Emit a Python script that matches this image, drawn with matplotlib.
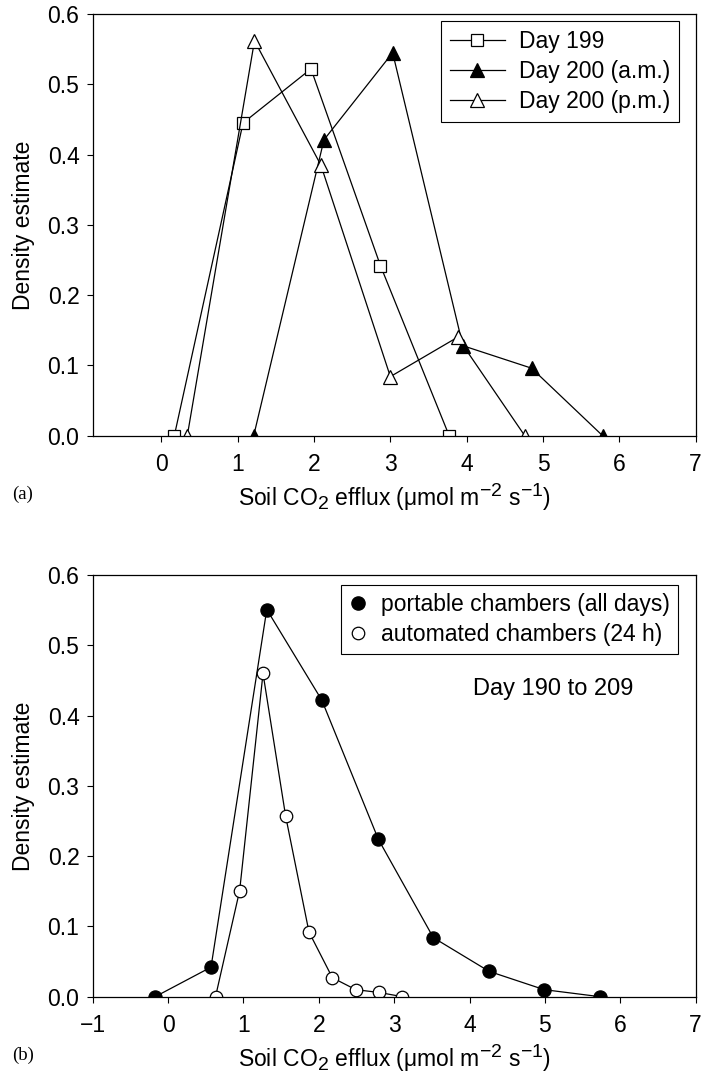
import matplotlib
matplotlib.use('Agg')
import matplotlib.pyplot as plt
import matplotlib._mathtext as mt
from matplotlib.lines import Line2D

plt.rcParams['font.family'] = ['Liberation Sans', 'DejaVu Sans']
plt.rcParams['mathtext.default'] = 'regular'
mt.SHRINK_FACTOR = 0.85  # bigger sub/superscripts, like the original

# panel (a)
day199_x = [0.17, 1.07, 1.96, 2.87, 3.77]
day199_y = [0.0, 0.445, 0.522, 0.242, 0.0]
am_x = [1.21, 2.13, 3.03, 3.95, 4.85, 5.78]
am_y = [0.0, 0.421, 0.545, 0.128, 0.096, 0.0]
pm_x = [0.34, 1.22, 2.09, 3.0, 3.88, 4.76]
pm_y = [0.0, 0.562, 0.385, 0.084, 0.14, 0.0]

# panel (b)
port_x = [-0.17, 0.57, 1.31, 2.04, 2.79, 3.52, 4.26, 4.99, 5.73]
port_y = [0.0, 0.042, 0.551, 0.422, 0.224, 0.084, 0.036, 0.010, 0.0]
auto_x = [0.63, 0.95, 1.26, 1.56, 1.87, 2.18, 2.49, 2.80, 3.11]
auto_y = [0.0, 0.151, 0.460, 0.257, 0.092, 0.027, 0.010, 0.006, 0.0]

yticks = [0.0, 0.1, 0.2, 0.3, 0.4, 0.5, 0.6]
xlab = 'Soil CO$_2$ efflux (\u03bcmol m$^{-2}$ s$^{-1}$)'

fig = plt.figure(figsize=(7.02, 10.81), dpi=100)
ax1 = fig.add_axes([0.132, 0.597, 0.859, 0.390])
ax2 = fig.add_axes([0.132, 0.078, 0.859, 0.390])

lw = 0.9
fs = 16.5
ax1.plot(day199_x, day199_y, color='black', lw=lw, marker='s', ms=9,
         mfc='white', mec='black', mew=0.9, label='Day 199')
ax1.plot(am_x, am_y, color='black', lw=lw, marker='^', ms=9.5,
         mfc='black', mec='black', mew=0.9, label='Day 200 (a.m.)')
ax1.plot(pm_x, pm_y, color='black', lw=lw, marker='^', ms=9.5,
         mfc='white', mec='black', mew=0.9, label='Day 200 (p.m.)')
ax1.set_xlim(-0.9, 7)
ax1.set_xticks(range(0, 8))
leg = ax1.legend(loc='upper right', bbox_to_anchor=(0.9723, 0.9834), borderaxespad=0,
                 fontsize=16.5, handlelength=2.4, handletextpad=0.6, fancybox=False,
                 edgecolor='black', framealpha=1, labelspacing=0.3, borderpad=0.4)
leg.get_frame().set_linewidth(0.8)

ax2.plot(port_x, port_y, color='black', lw=lw, marker='o', ms=9.5,
         mfc='black', mec='black', mew=0.9)
ax2.plot(auto_x, auto_y, color='black', lw=lw, marker='o', ms=9,
         mfc='white', mec='black', mew=0.9)
ax2.set_xlim(-1, 7)
ax2.set_xticks(range(-1, 8))
h = [Line2D([], [], ls='none', marker='o', ms=9.5, mfc='black', mec='black'),
     Line2D([], [], ls='none', marker='o', ms=9, mfc='white', mec='black', mew=0.9)]
leg2 = ax2.legend(h, ['portable chambers (all days)', 'automated chambers (24 h)'],
                  loc='upper right', bbox_to_anchor=(0.9706, 0.9763), borderaxespad=0,
                  fontsize=16.5, handlelength=0.8, handletextpad=0.6, fancybox=False,
                  edgecolor='black', framealpha=1, labelspacing=0.3, borderpad=0.35)
leg2.get_frame().set_linewidth(0.8)
ax2.text(0.764, 0.73, 'Day 190 to 209', transform=ax2.transAxes, fontsize=17,
         ha='center', va='center')

for ax, tag in [(ax1, '(a)'), (ax2, '(b)')]:
    ax.set_ylim(0, 0.6)
    ax.set_yticks(yticks)
    ax.set_yticklabels(['%.1f' % v for v in yticks])
    ax.tick_params(direction='out', length=4.5, width=0.8, labelsize=fs, pad=5)
    ax.tick_params(axis='x', pad=8)
    for s in ax.spines.values():
        s.set_linewidth(0.9)
    ax.set_ylabel('Density estimate', fontsize=fs, labelpad=9)
    ax.set_xlabel(xlab, fontsize=fs, labelpad=3)
    ax.text(-0.134, -0.14, tag, transform=ax.transAxes, fontsize=13.5,
            family='Liberation Serif', ha='left', va='center')

fig.savefig('out.png', dpi=100)
